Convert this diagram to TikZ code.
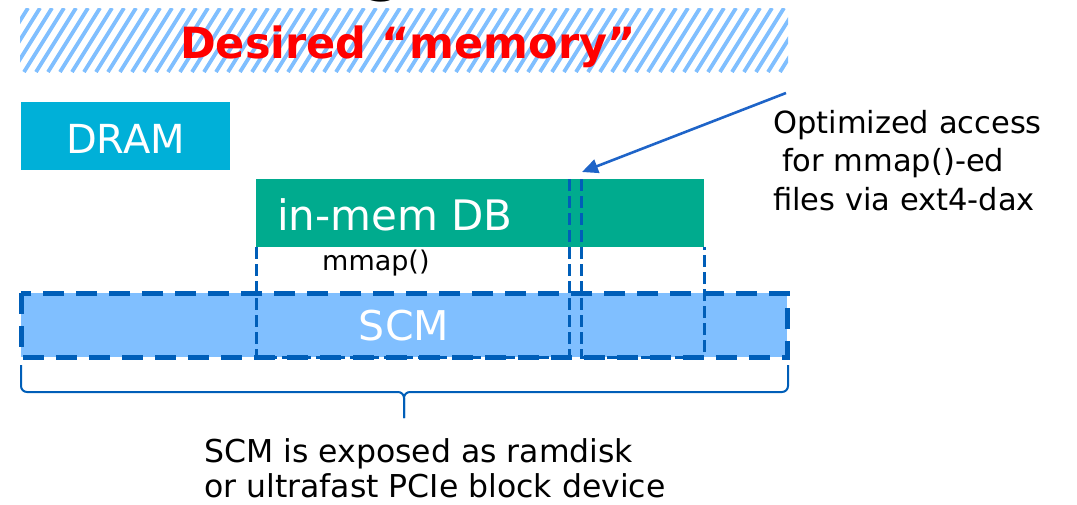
\documentclass[tikz,border=0pt]{standalone}
\usepackage{fontspec}
\setmainfont{DejaVu Sans}
\usetikzlibrary{arrows.meta}
\definecolor{dramcyan}{HTML}{00B0D8}
\definecolor{dbgreen}{HTML}{00AB8E}
\definecolor{scmblue}{HTML}{80BFFF}
\definecolor{hatchblue}{HTML}{80BFFF}
\definecolor{dashblue}{HTML}{005EB8}
\definecolor{arrowblue}{HTML}{1E64C8}
\definecolor{titlered}{HTML}{FF0000}
\tikzset{
  box/.style={inner sep=0pt, outer sep=0pt, anchor=north west},
  boxlabel/.style={text=white, font=\fontsize{41}{48}\selectfont, inner sep=0pt},
  plain/.style={text=black, inner sep=0pt, align=left},
  heavydash/.style={draw=dashblue, line width=5pt, dash pattern=on 21pt off 12pt},
  lightdash/.style={draw=dashblue, line width=3pt, dash pattern=on 12pt off 5pt},
  bracepath/.style={draw=dashblue, line width=2pt, rounded corners=6pt},
}
\begin{document}
\begin{tikzpicture}[x=1pt, y=-1pt]
\useasboundingbox (0,0) rectangle (1077,504);

% cut-off heading above the band
\begin{scope}
  \clip (0,0) rectangle (1077,504);
  \node[inner sep=0pt, anchor=base, font=\bfseries\fontsize{54}{60}\selectfont] (head) at (384,-10) {g};
\end{scope}

% hatched band with the red caption
\begin{scope}
  \clip (20,8) rectangle (788,72);
  \foreach \x in {-60,-48,...,792}
    \draw[hatchblue, line width=3.8pt] (\x,72) -- (\x+40,8);
\end{scope}
\node[inner sep=0pt, anchor=base, text=titlered, font=\bfseries\fontsize{43}{50}\selectfont] (wish) at (408,58) {Desired “memory”};

% DRAM
\node[box, fill=dramcyan, minimum width=209pt, minimum height=68pt] (dram) at (21,102) {};
\node[boxlabel, font=\fontsize{40}{48}\selectfont, anchor=base] (dramtxt) at (125.5,153) {DRAM};

% SCM
\node[box, fill=scmblue, minimum width=766pt, minimum height=64pt] (scm) at (21,293) {};

% in-memory database
\node[box, fill=dbgreen, minimum width=448pt, minimum height=68pt] (db) at (256,179) {};
\node[boxlabel, font=\fontsize{42}{48}\selectfont, anchor=base west] (dbtxt) at (277,230) {in-mem DB};

% mapped regions
\draw[lightdash] (256,247) -- (256,357) -- (569,357);
\draw[lightdash] (569,179) -- (569,357);
\draw[lightdash] (581,179) -- (581,357) -- (704,357) -- (704,247);
\draw[heavydash] (scm.north west) rectangle (scm.south east);
\node[boxlabel, anchor=base] (scmtxt) at (404,340) {SCM};

\node[plain, anchor=base west, font=\fontsize{27}{32}\selectfont] (mmap) at (322,270) {mmap()};

% note and arrow (base anchor sits on the last line)
\node[plain, anchor=base west, font=\fontsize{30.5}{38.5}\selectfont] (note) at (773,210)
  {Optimized access\\\hspace*{9pt}for mmap()-ed\\files via ext4-dax};
\coordinate (notetail) at (786,93);
\coordinate (dax) at (582,172);
\draw[arrowblue, line width=2.6pt, -{Triangle[length=16pt, width=14pt]}] (notetail) -- (dax);

% brace under SCM
\coordinate (bl) at (21,365);
\coordinate (br) at (788,365);
\coordinate (btip) at (404,418);
\draw[bracepath] (bl) -- (21,392) -- (404,392) -- (btip);
\draw[bracepath] (br) -- (788,392) -- (404,392) -- (btip);
\node[plain, anchor=base west, font=\fontsize{31.5}{35}\selectfont] (scmnote) at (204,497)
  {SCM is exposed as ramdisk\\or ultrafast PCIe block device};
\end{tikzpicture}
\end{document}
